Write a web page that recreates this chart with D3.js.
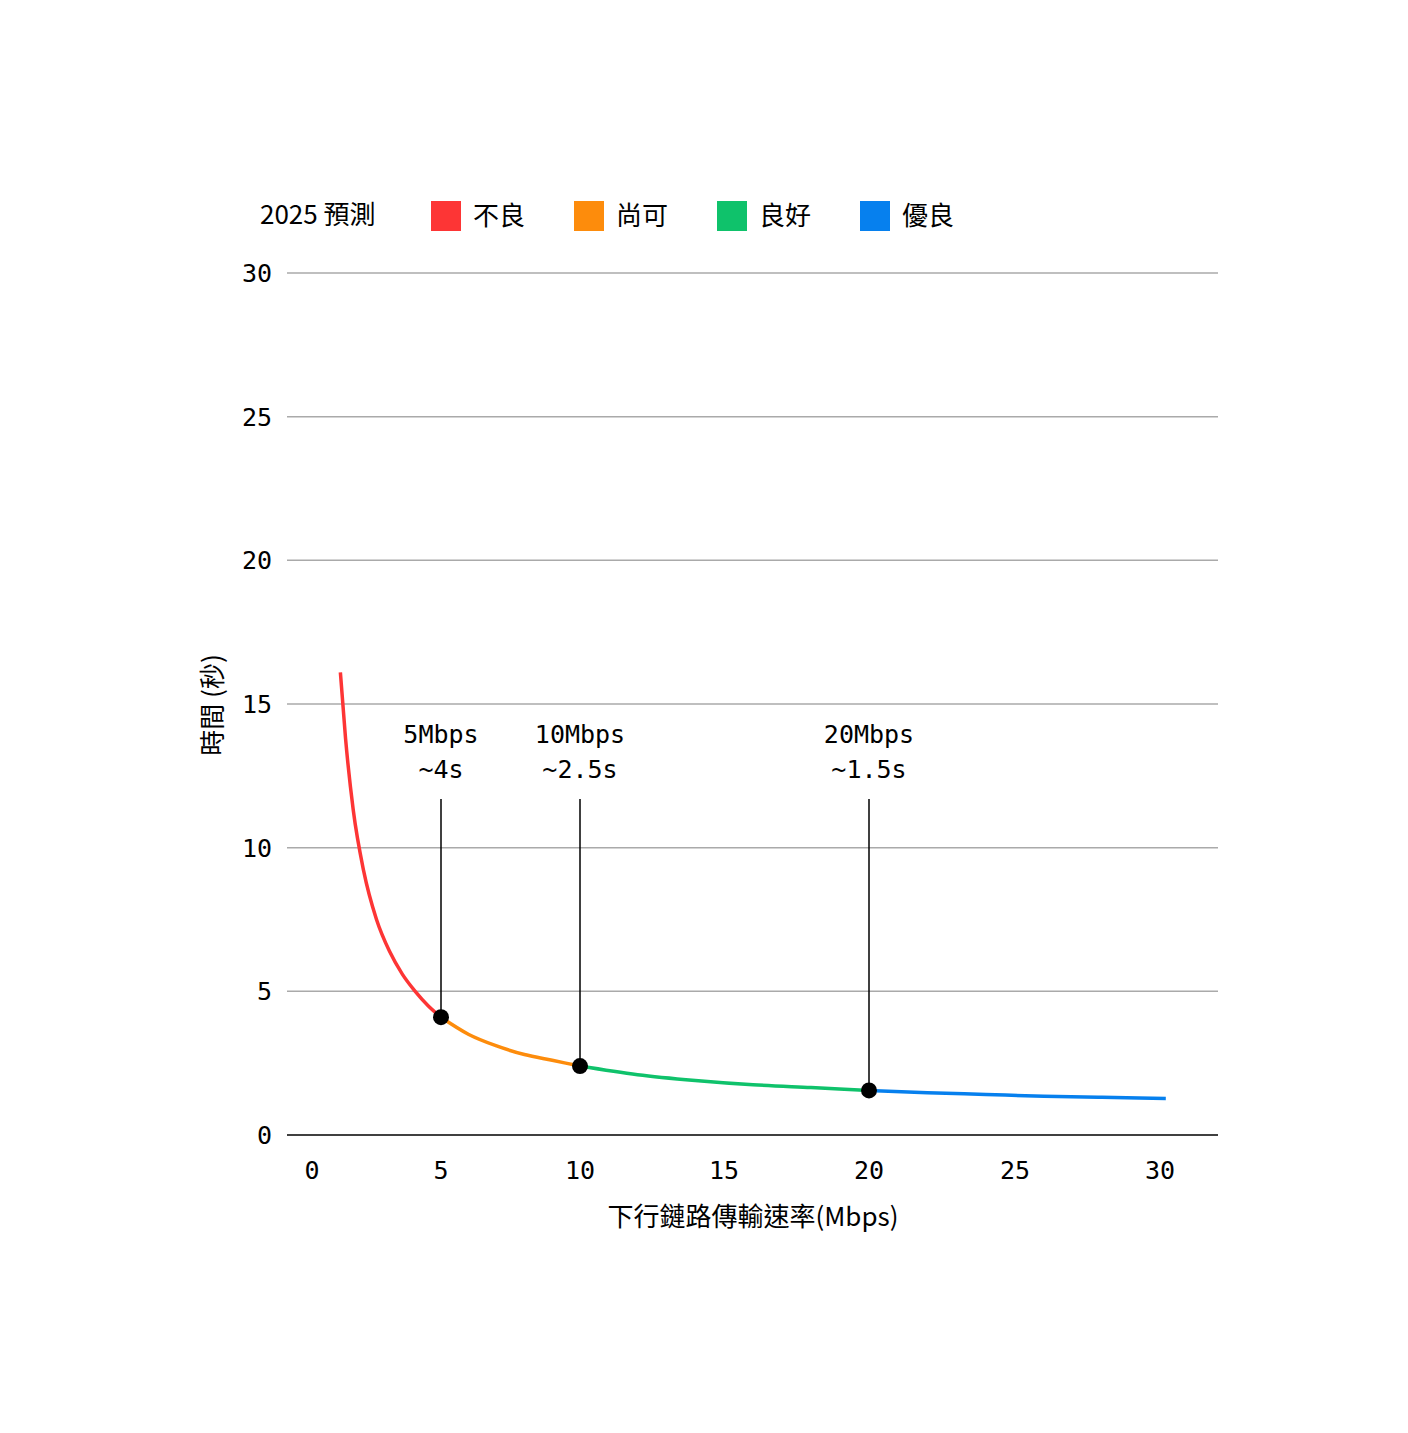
<!DOCTYPE html>
<html><head><meta charset="utf-8">
<script src="https://cdn.jsdelivr.net/npm/d3@7"></script>
<style>body{margin:0;background:#fff}</style></head>
<body><svg id="c" width="1408" height="1433"></svg>
<script>
const xTicks=[0,5,10,15,20,25,30];
const yTicks=[0,5,10,15,20,25,30];
const speeds=[1.1,1.3,1.6,2,2.5,3,3.5,4,4.5,5,6,7,8,9,10,12,14,16,18,20,22,24,26,28,30.2];
const times=[16.1,13.8,11.3,9.2,7.5,6.4,5.6,5.0,4.5,4.1,3.5,3.1,2.8,2.6,2.4,2.1,1.9,1.75,1.65,1.55,1.47,1.41,1.35,1.31,1.27];
const segments=[{name:"不良",from:0,to:5,color:"#fd3535"},{name:"尚可",from:5,to:10,color:"#fd8c0c"},{name:"良好",from:10,to:20,color:"#0fc26b"},{name:"優良",from:20,to:31,color:"#0680ee"}];
const marks=[{x:5,y:4.1,l1:"5Mbps",l2:"~4s"},{x:10,y:2.4,l1:"10Mbps",l2:"~2.5s"},{x:20,y:1.55,l1:"20Mbps",l2:"~1.5s"}];
const mono="'DejaVu Sans Mono',monospace", cjk="'Noto Sans CJK TC','Noto Sans',sans-serif";
const svg=d3.select("#c");
const x=d3.scaleLinear().domain(xTicks).range([312,441,580,724,869,1015,1160]);
const y=d3.scaleLinear().domain([0,30]).range([1135,273]);
const g=svg.append("g");
yTicks.forEach(t=>{
  g.append("line").attr("x1",287).attr("x2",1218).attr("y1",y(t)).attr("y2",y(t)).attr("stroke",t===0?"#000":"#aaa").attr("stroke-width",t===0?1.5:1.5);
  g.append("text").attr("x",272).attr("y",y(t)+9).attr("text-anchor","end").attr("font-family",mono).attr("font-size",25).text(t);
});
xTicks.forEach(t=>g.append("text").attr("x",x(t)).attr("y",1179).attr("text-anchor","middle").attr("font-family",mono).attr("font-size",25).text(t));
const pts=speeds.map((s,i)=>[s,times[i]]);
const line=d3.line().x(d=>x(d[0])).y(d=>y(d[1])).curve(d3.curveMonotoneX);
segments.forEach(s=>{
  const p=pts.filter(d=>d[0]>=s.from&&d[0]<=s.to);
  g.append("path").attr("d",line(p)).attr("fill","none").attr("stroke",s.color).attr("stroke-width",3.5);
});
marks.forEach(m=>{
  g.append("line").attr("x1",x(m.x)).attr("x2",x(m.x)).attr("y1",799).attr("y2",y(m.y)).attr("stroke","#000").attr("stroke-width",1.5);
  g.append("circle").attr("cx",x(m.x)).attr("cy",y(m.y)).attr("r",8).attr("fill","#000");
  g.append("text").attr("x",x(m.x)).attr("y",743).attr("text-anchor","middle").attr("font-family",mono).attr("font-size",25).text(m.l1);
  g.append("text").attr("x",x(m.x)).attr("y",778).attr("text-anchor","middle").attr("font-family",mono).attr("font-size",25).text(m.l2);
});
g.append("text").attr("x",260).attr("y",224).attr("font-family",cjk).attr("font-size",26).text("2025 預測");
segments.forEach((s,i)=>{
  const lx=431+i*143;
  g.append("rect").attr("x",lx).attr("y",201).attr("width",30).attr("height",30).attr("fill",s.color);
  g.append("text").attr("x",lx+42).attr("y",225).attr("font-family",cjk).attr("font-size",26).text(s.name);
});
g.append("text").attr("transform","translate(222,705) rotate(-90)").attr("text-anchor","middle").attr("font-family",cjk).attr("font-size",26).text("時間 (秒)");
g.append("text").attr("x",753).attr("y",1226).attr("text-anchor","middle").attr("font-family",cjk).attr("font-size",26).text("下行鏈路傳輸速率(Mbps)");
</script></body></html>
